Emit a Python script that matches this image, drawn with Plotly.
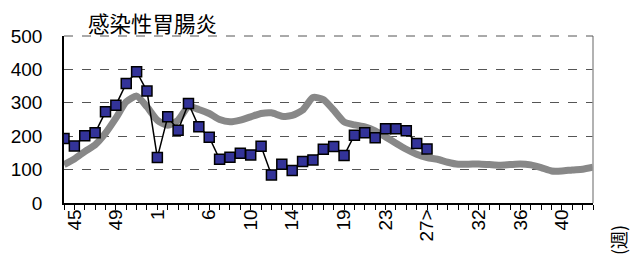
import plotly.graph_objects as go

# ---- data ----
weeks = [str(w) for w in list(range(44, 53)) + list(range(1, 44))]
current = [193, 171, 201, 210, 273, 293, 358, 393, 335, 136,
           258, 218, 298, 228, 197, 131, 137, 149, 144, 170,
           84, 116, 97, 124, 129, 161, 169, 142, 203, 210,
           195, 222, 222, 216, 178, 162]
average = [115, 132, 154, 174, 209, 254, 303, 320, 288, 248,
           233, 248, 288, 280, 268, 250, 243, 248, 258, 268,
           270, 260, 262, 278, 316, 310, 278, 243, 234, 228,
           216, 198, 179, 161, 146, 136, 131, 122, 116, 116,
           117, 115, 113, 115, 117, 114, 106, 96, 96, 99,
           101, 107]
label_weeks = ["45", "49", "1", "6", "10", "14", "19", "23", "27", "32", "36", "40"]
label_texts = ["45", "49", "1", "6", "10", "14", "19", "23", "27>", "32", "36", "40"]
title_text = "感染性胃腸炎"
next_title = "ヘルパンギーナ"
unit_text = "(週)"

ticktext = [label_texts[label_weeks.index(w)] if w in label_weeks else "" for w in weeks]

num_font = "Liberation Sans, Arial, sans-serif"
cjk_font = "Noto Sans CJK JP, sans-serif"

# page has an 8px body margin, so the figure is sized to fit the window
W, H = 631, 252
ML, MR, MT, MB = 56, 46, 28, 57
PW, PH = W - ML - MR, H - MT - MB


def px_x(x):  # page x -> paper x
    return (x - 8 - ML) / PW


def px_y(y):  # page y -> paper y
    return 1 - (y - 8 - MT) / PH


fig = go.Figure()
fig.add_trace(go.Scatter(
    x=weeks, y=average, mode="lines",
    line=dict(color="#888888", width=7, shape="spline", smoothing=0.6),
    hoverinfo="skip", showlegend=False))
fig.add_trace(go.Scatter(
    x=weeks[:len(current)], y=current, mode="lines+markers",
    line=dict(color="black", width=1.5),
    marker=dict(symbol="square", size=10, color="#333399",
                line=dict(color="black", width=1.5)),
    showlegend=False))

fig.update_layout(
    width=W, height=H,
    margin=dict(l=ML, r=MR, t=MT, b=MB),
    paper_bgcolor="white", plot_bgcolor="white",
    xaxis=dict(
        type="category", categoryorder="array", categoryarray=weeks,
        range=[0, len(weeks) - 1],
        tickmode="array", tickvals=weeks, ticktext=ticktext,
        tickangle=-90, ticks="outside", ticklen=5, tickcolor="black",
        tickwidth=1, ticklabelstandoff=-8,
        showline=True, linecolor="black", linewidth=1.5,
        showgrid=False, zeroline=False, automargin=False,
        tickfont=dict(family=num_font, size=19, color="black"),
    ),
    yaxis=dict(
        range=[0, 500], dtick=100, tick0=0,
        showline=True, linecolor="black", linewidth=1.5,
        showgrid=True, gridcolor="#555555", griddash="dash", gridwidth=1,
        zeroline=False, ticks="", automargin=False,
        ticklabelstandoff=16,
        tickfont=dict(family=num_font, size=19, color="black"),
    ),
    annotations=[
        dict(text=title_text, xref="paper", yref="paper",
             x=px_x(86), y=px_y(22),
             xanchor="left", yanchor="middle", showarrow=False,
             font=dict(family=cjk_font, size=21.5, color="black")),
        dict(text=unit_text, xref="paper", yref="paper",
             x=px_x(618), y=px_y(240),
             xanchor="center", yanchor="middle", textangle=-90,
             showarrow=False,
             font=dict(family=cjk_font, size=18, color="black")),
        dict(text=next_title, xref="paper", yref="paper",
             x=px_x(88), y=px_y(255),
             xanchor="left", yanchor="top", showarrow=False,
             font=dict(family=cjk_font, size=22, color="black")),
    ],
    shapes=[
        dict(type="line", xref="paper", yref="paper", x0=1, x1=1, y0=0, y1=1,
             line=dict(color="#999999", width=1.5)),
        dict(type="line", xref="paper", yref="paper", x0=0, x1=1, y0=1, y1=1,
             line=dict(color="#555555", width=1, dash="dash")),
    ],
)

fig.write_html("out.html")
